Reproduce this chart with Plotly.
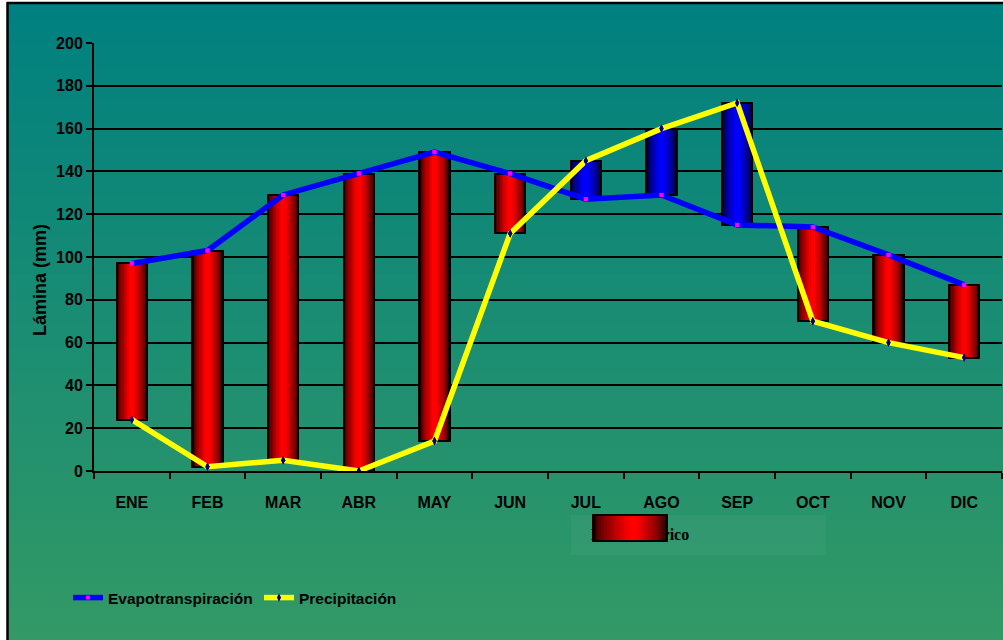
import plotly.graph_objects as go

# ---------------- data ----------------
months = ["ENE", "FEB", "MAR", "ABR", "MAY", "JUN", "JUL", "AGO", "SEP", "OCT", "NOV", "DIC"]
evapotranspiracion = [97, 103, 129, 139, 149, 139, 127, 129, 115, 114, 101, 87]
precipitacion = [24, 2, 5, 0, 14, 111, 145, 160, 172, 70, 60, 53]
y_tick_values = [0, 20, 40, 60, 80, 100, 120, 140, 160, 180, 200]

# ---------------- geometry / style ----------------
W, H = 1003, 640
ML, MR, MT, MB = 94, 1, 43, 169
PW, PH = W - ML - MR, H - MT - MB

def px(x):
    return (x - ML) / PW

def py(y):
    return (H - MB - y) / PH

SANS = "Liberation Sans, Arial, sans-serif"

base = [min(e, p) for e, p in zip(evapotranspiracion, precipitacion)]
height = [abs(e - p) for e, p in zip(evapotranspiracion, precipitacion)]
deficit = [e >= p for e, p in zip(evapotranspiracion, precipitacion)]

fig = go.Figure()

# ---------------- background gradient (paper) ----------------
shapes = []
top_c = (0, 128, 128)
bot_c = (51, 153, 102)
n_bands = 80
y0p, y1p = 3, H
for i in range(n_bands):
    t = i / (n_bands - 1)
    c = tuple(round(top_c[k] + (bot_c[k] - top_c[k]) * t) for k in range(3))
    ya = y0p + (y1p - y0p) * i / n_bands
    yb = y0p + (y1p - y0p) * (i + 1) / n_bands + 0.8
    shapes.append(dict(type="rect", xref="paper", yref="paper", layer="below",
                       x0=px(8), x1=px(W + 2), y0=py(yb), y1=py(ya),
                       fillcolor="rgb(%d,%d,%d)" % c, line=dict(width=0)))
# frame
shapes.append(dict(type="line", xref="paper", yref="paper", layer="above",
                   x0=px(7.5), x1=px(7.5), y0=py(2), y1=py(H + 2),
                   line=dict(color="black", width=2.5)))
shapes.append(dict(type="line", xref="paper", yref="paper", layer="above",
                   x0=px(7), x1=px(W + 2), y0=py(3), y1=py(3),
                   line=dict(color="black", width=2.5)))
# faint legend area
shapes.append(dict(type="rect", xref="paper", yref="paper", layer="above",
                   x0=px(571), x1=px(826), y0=py(555), y1=py(515),
                   fillcolor="rgba(255,255,255,0.035)", line=dict(width=0)))

# ---------------- lines (behind bars) ----------------
fig.add_trace(go.Scatter(
    x=months, y=evapotranspiracion, mode="lines+markers", name="Evapotranspiración",
    line=dict(color="#0000FF", width=5.5),
    marker=dict(symbol="square", size=4, color="#FF00FF", line=dict(width=0)),
))
fig.add_trace(go.Scatter(
    x=months, y=precipitacion, mode="lines+markers", name="Precipitación",
    line=dict(color="#FFFF00", width=5.5),
    marker=dict(symbol="diamond-tall", size=6, color="#000080", line=dict(width=0)),
))

# ---------------- cylinder-shaded bars ----------------
n_layers = 12
w_outer, w_inner = 0.40, 0.06
for k in range(n_layers):
    t = k / (n_layers - 1)
    w = w_outer - (w_outer - w_inner) * t
    s = t ** 0.6
    red = "rgb(%d,0,0)" % round(25 + (255 - 25) * s)
    blue = "rgb(0,0,%d)" % round(25 + (255 - 25) * s)
    fig.add_trace(go.Bar(
        x=months, y=height, base=base, width=w,
        marker=dict(color=[red if d else blue for d in deficit], line=dict(width=0)),
        showlegend=False, hoverinfo="skip",
    ))
# outline
fig.add_trace(go.Bar(
    x=months, y=height, base=base, width=w_outer,
    marker=dict(color="rgba(0,0,0,0)", line=dict(color="black", width=2)),
    showlegend=False, hoverinfo="skip",
))

# markers on top of bars
fig.add_trace(go.Scatter(
    x=months, y=evapotranspiracion, mode="markers", showlegend=False, hoverinfo="skip",
    marker=dict(symbol="square", size=4, color="#FF00FF", line=dict(width=0)),
))
fig.add_trace(go.Scatter(
    x=months, y=precipitacion, mode="markers", showlegend=False, hoverinfo="skip",
    marker=dict(symbol="diamond-tall", size=6, color="#000080", line=dict(width=0)),
))

# ---------------- annotations ----------------
annotations = [
    # y-axis title
    dict(xref="paper", yref="paper", x=px(40), y=py(280), xanchor="center", yanchor="middle",
         text="Lámina (mm)", textangle=-90, showarrow=False,
         font=dict(family=SANS, size=18, color="black", weight="bold")),
    # "Déficit hídrico" legend text (covered by the box)
    dict(xref="paper", yref="paper", x=px(589), y=py(534), xanchor="left", yanchor="middle",
         text="<b>Déficit hídrico</b>", showarrow=False,
         font=dict(family="Liberation Serif, Times New Roman, serif", size=16, color="black")),
]
bx0, bx1, by0, by1 = 593, 667, 515, 541
box_layers = 14
for k in range(box_layers):
    t = k / (box_layers - 1)
    w = (bx1 - bx0) * (1 - 0.9 * t)
    cx = (bx0 + bx1) / 2 + 3 * t
    s = t ** 0.6
    annotations.append(dict(xref="paper", yref="paper", x=px(cx), y=py((by0 + by1) / 2),
                            xanchor="center", yanchor="middle", text=" ", showarrow=False,
                            width=w, height=by1 - by0, borderpad=0, borderwidth=0,
                            bgcolor="rgb(%d,0,0)" % round(20 + 235 * s)))
annotations.append(dict(xref="paper", yref="paper", x=px((bx0 + bx1) / 2), y=py((by0 + by1) / 2),
                        xanchor="center", yanchor="middle", text=" ", showarrow=False,
                        width=bx1 - bx0 - 2, height=by1 - by0 - 2, borderpad=0, borderwidth=2,
                        bordercolor="black", bgcolor="rgba(0,0,0,0)"))

# ---------------- layout ----------------
fig.update_layout(
    width=W, height=H,
    margin=dict(l=ML, r=MR, t=MT, b=MB, autoexpand=False),
    paper_bgcolor="white", plot_bgcolor="rgba(0,0,0,0)",
    barmode="overlay", bargap=0,
    shapes=shapes, annotations=annotations,
    showlegend=True,
    legend=dict(orientation="h", x=px(68), y=py(598), xanchor="left", yanchor="middle",
                bgcolor="rgba(0,0,0,0)", font=dict(family=SANS, size=15.5, color="black", weight="bold"),
                itemwidth=30, tracegroupgap=0, entrywidth=146),
    font=dict(family=SANS, color="black"),
)
fig.update_xaxes(
    type="category", range=[-0.5, 11.5], showgrid=False,
    showline=True, linecolor="black", linewidth=2,
    ticks="outside", tickson="boundaries", ticklen=6, tickwidth=1.5, tickcolor="black",
    tickfont=dict(family=SANS, size=16, color="black", weight="bold"),
    ticklabelstandoff=16, automargin=False,
)
fig.update_yaxes(
    range=[0, 200], tickvals=y_tick_values, showgrid=True, gridcolor="black", gridwidth=2,
    zeroline=False, showline=True, linecolor="black", linewidth=2,
    ticks="outside", ticklen=6, tickwidth=2, tickcolor="black",
    tickfont=dict(family=SANS, size=16, color="black", weight="bold"),
    automargin=False,
)

fig.write_html("out.html", config={"displayModeBar": False},
               post_script="document.body.style.margin='0px';")
